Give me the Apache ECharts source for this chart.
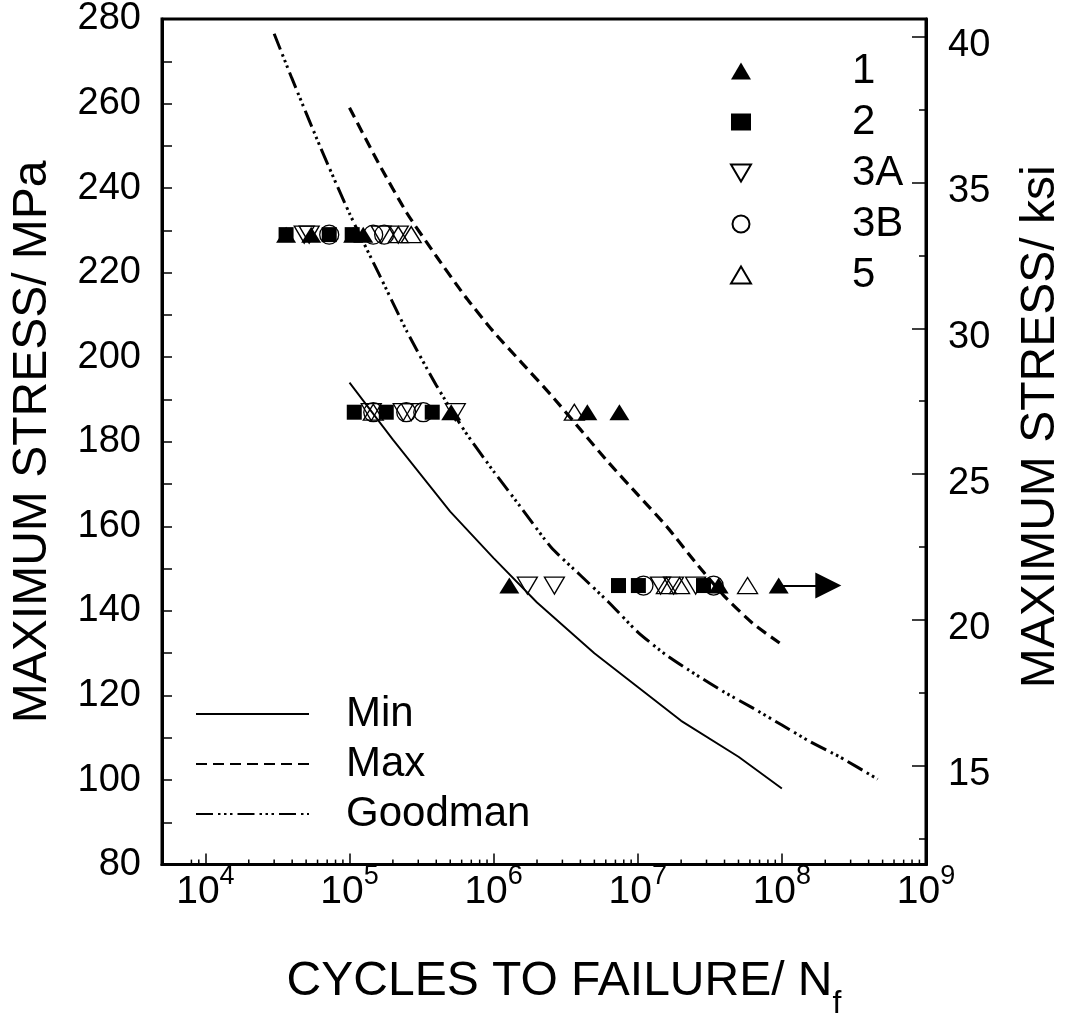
<!DOCTYPE html>
<html><head><meta charset="utf-8">
<script src="https://cdn.jsdelivr.net/npm/echarts@6/dist/echarts.min.js"></script>
<style>html,body{margin:0;padding:0;background:#fff}#c{width:1065px;height:1030px}</style>
</head><body><div id="c"></div>
<script>
const FONT = '"Liberation Sans", Arial, Helvetica, sans-serif';
const xMin = 5000, xMax = 1e9;
const yMin = 80, yMax = 280;
const MPA_PER_KSI = 6.89476;
const xMajorTicks = [1e4, 1e5, 1e6, 1e7, 1e8, 1e9];
const xMinorTicks = [8e3, 9e3,
  2e4, 3e4, 4e4, 5e4, 6e4, 7e4, 8e4, 9e4,
  2e5, 3e5, 4e5, 5e5, 6e5, 7e5, 8e5, 9e5,
  2e6, 3e6, 4e6, 5e6, 6e6, 7e6, 8e6, 9e6,
  2e7, 3e7, 4e7, 5e7, 6e7, 7e7, 8e7, 9e7,
  2e8, 3e8, 4e8, 5e8, 6e8, 7e8, 8e8, 9e8];
const ksiMajorTicks = [15, 20, 25, 30, 35, 40];
const ksiMinorTicks = [12.5, 17.5, 22.5, 27.5, 32.5, 37.5];

// test data: [cycles, MPa]
const series1 = [[36300,229],[54200,229],[106000,229],[124500,229],
  [508000,187],[4.47e6,187],[7.46e6,187],
  [1.285e6,146],[3.64e7,146],[9.5e7,146]];
const series2 = [[36300,229],[72300,229],[104400,229],
  [107900,187],[179900,187],[375000,187],
  [7.35e6,146],[1.01e7,146],[2.86e7,146]];
const series3A = [[48500,229],[52500,229],[166000,229],[218000,229],
  [141600,187],[236000,187],[268000,187],[542000,187],
  [1.714e6,146],[2.64e6,146],[1.44e7,146],[1.77e7,146],[2.52e7,146]];
const series3B = [[72300,229],[146000,229],[174000,229],
  [146200,187],[247600,187],[325000,187],
  [1.096e7,146],[3.36e7,146]];
const series5 = [[218000,229],[268000,229],
  [146200,187],[3.63e6,187],
  [1.58e7,146],[1.95e7,146],[5.78e7,146]];
const arrowStart = [9.5e7, 146];
const arrowEnd = [2.1e8, 146];

// predicted curves: [cycles, MPa]
const minCurve = [[1e5,194],[2e5,180.5],[5e5,163.5],[1e6,152.5],[2e6,142],[5e6,130],[1e7,122],[2e7,114],[5e7,105.5],[1e8,98]];
const maxCurve = [[1e5,259],[1.585e5,246],[2.512e5,234],[3.981e5,224],[6.31e5,214.5],[1e6,206],[1.585e6,198.5],[2.512e6,191],[3.981e6,183],[6.31e6,175],[1e7,167.5],[1.585e7,160],[2.512e7,151.5],[3.981e7,143.5],[6.31e7,137],[9.64e7,132.4]];
const goodmanCurve = [[3e4,276.5],[3.98e4,266],[6.31e4,249.5],[1e5,234],[1.585e5,220],[2.512e5,206],[3.981e5,193.5],[6.31e5,182.5],[1e6,173],[1.585e6,164],[2.512e6,155],[3.981e6,148.5],[6.31e6,142],[1e7,135],[1.585e7,129.5],[2.512e7,125],[3.981e7,120.8],[6.31e7,117],[1e8,113],[1.585e8,109],[2.512e8,105.5],[4.62e8,100.2]];

const chart = echarts.init(document.getElementById('c'), null, {renderer: 'canvas'});
const hollow = {color: 'rgba(0,0,0,0)', borderColor: '#000', borderWidth: 1.3, opacity: 1};
const filled = {color: '#000', borderColor: '#000', borderWidth: 0, opacity: 1};
const txt = {fontFamily: FONT, color: '#000'};
const frameLine = {show: true, onZero: false, lineStyle: {color: '#000', width: 3}};

const option = {
  animation: false,
  backgroundColor: '#fff',
  grid: {left: 162, right: 139, top: 19, bottom: 165.4, outerBoundsMode: 'none', containLabel: false,
         show: true, borderColor: '#000', borderWidth: 3, backgroundColor: 'rgba(0,0,0,0)'},
  legend: [
    {data: ['1','2',{name:'3A', icon:'path://M0,0 L20,0 L10,17 Z'},'3B','5'], orient: 'vertical', left: 725, top: 45, itemWidth: 20, itemHeight: 17, itemGap: 9,
     selectedMode: false, textStyle: Object.assign({fontSize: 42, lineHeight: 40, padding: [0,0,0,96]}, txt)},
    {data: ['Min','Max','Goodman'], orient: 'vertical', left: 190, top: 688, itemWidth: 113, itemHeight: 14, itemGap: 8,
     itemStyle: {opacity: 0},
     selectedMode: false, textStyle: Object.assign({fontSize: 42, lineHeight: 40, padding: [0,0,0,32]}, txt)}
  ],
  xAxis: [{
    type: 'log', logBase: 10, min: xMin, max: xMax,
    axisLine: frameLine,
    axisTick: {inside: true, length: 11, customValues: xMajorTicks, lineStyle: {color: '#000', width: 1.5}},
    splitLine: {show: false},
    axisLabel: {
      customValues: xMajorTicks, margin: -2, showMinLabel: true, showMaxLabel: true,
      formatter: function (v) {
        const e = Math.round(Math.log10(v));
        if (Math.abs(Math.log10(v) - e) > 1e-6) return '';
        return '{b|10}{s|' + e + '}';
      },
      rich: {
        b: {fontSize: 39, fontFamily: FONT, color: '#000', verticalAlign: 'bottom', lineHeight: 49},
        s: {fontSize: 27, fontFamily: FONT, color: '#000', verticalAlign: 'top', lineHeight: 27}
      }
    },
    name: '{t|CYCLES TO FAILURE/ N}{u|f}', nameLocation: 'middle', nameGap: 93,
    nameTextStyle: {
      padding: [0,0,0,40],
      rich: {
        t: {fontSize: 48, fontFamily: FONT, color: '#000', verticalAlign: 'top', lineHeight: 63},
        u: {fontSize: 32, fontFamily: FONT, color: '#000', verticalAlign: 'bottom', lineHeight: 32}
      }
    }
  }],
  yAxis: [
    {type: 'value', min: yMin, max: yMax, interval: 10, position: 'left',
     axisLine: frameLine,
     axisTick: {inside: true, length: 10, lineStyle: {color: '#000', width: 1.5}},
     splitLine: {show: false},
     axisLabel: Object.assign({fontSize: 38, margin: 21, formatter: v => (v % 20 === 0 ? String(v) : '')}, txt),
     name: 'MAXIMUM STRESS/ MPa', nameLocation: 'middle', nameRotate: 90, nameGap: 105,
     nameTextStyle: Object.assign({fontSize: 48}, txt)},
    {type: 'value', min: yMin / MPA_PER_KSI, max: yMax / MPA_PER_KSI, position: 'right',
     axisLine: frameLine,
     axisTick: {inside: true, length: 14, customValues: ksiMajorTicks, lineStyle: {color: '#000', width: 1.5}},
     splitLine: {show: false},
     axisLabel: {margin: 22, customValues: ksiMajorTicks,
       formatter: v => '{k|' + v + '}',
       rich: {k: {fontSize: 38, fontFamily: FONT, color: '#000', verticalAlign: 'bottom', lineHeight: 56}}},
     name: 'MAXIMUM STRESS/ ksi', nameLocation: 'middle', nameRotate: 90, nameGap: 91,
     nameTextStyle: Object.assign({fontSize: 48, padding: [0,0,0,30]}, txt)},
    {type: 'value', min: yMin / MPA_PER_KSI, max: yMax / MPA_PER_KSI, position: 'right',
     axisLine: {show: false},
     axisTick: {inside: true, length: 7, customValues: ksiMinorTicks, lineStyle: {color: '#000', width: 1.5}},
     splitLine: {show: false},
     axisLabel: {show: false}}
  ],
  series: [
    {name: 'Min', type: 'line', data: minCurve, symbol: 'none', lineStyle: {color: '#000', width: 1.9}, itemStyle: {color: '#000'}, z: 2},
    {name: 'Max', type: 'line', data: maxCurve, symbol: 'none', smooth: 0.2, lineStyle: {color: '#000', width: 3.2, type: [11, 6]}, itemStyle: {color: '#000'}, z: 2},
    {name: 'Goodman', type: 'line', data: goodmanCurve, symbol: 'none', smooth: 0.2, lineStyle: {color: '#000', width: 3, type: [17, 5, 2.5, 3.5, 2.5, 3.5, 2.5, 5]}, itemStyle: {color: '#000'}, z: 2},
    {name: '1', type: 'scatter', data: series1, symbol: 'triangle', symbolSize: [20, 16], itemStyle: filled, z: 3},
    {name: '2', type: 'scatter', data: series2, symbol: 'rect', symbolSize: [15, 15], itemStyle: filled, z: 3},
    {name: '3A', type: 'scatter', data: series3A, symbol: 'triangle', symbolRotate: 180, symbolSize: [20, 17], itemStyle: hollow, z: 3},
    {name: '3B', type: 'scatter', data: series3B, symbol: 'circle', symbolSize: 19, itemStyle: hollow, z: 3},
    {name: '5', type: 'scatter', data: series5, symbol: 'triangle', symbolSize: [20, 16], itemStyle: hollow, z: 3},
    {name: 'arrow', type: 'lines', coordinateSystem: 'cartesian2d', xAxisIndex: 0, yAxisIndex: 0,
     data: [{coords: [arrowStart, arrowEnd]}], symbol: ['none', 'triangle'], symbolSize: 26,
     lineStyle: {color: '#000', width: 2, opacity: 1}, z: 3, silent: true},
    {name: 'xminor', type: 'custom', xAxisIndex: 0, yAxisIndex: 0, silent: true,
     data: xMinorTicks.map(v => [v, yMin]), encode: {x: 0, y: 1},
     renderItem: function (params, api) {
       const p = api.coord([api.value(0), api.value(1)]);
       return {type: 'line', shape: {x1: p[0], y1: p[1], x2: p[0], y2: p[1] - 5}, style: {stroke: '#000', lineWidth: 1.5}};
     }}
  ]
};
chart.setOption(option);
</script></body></html>
